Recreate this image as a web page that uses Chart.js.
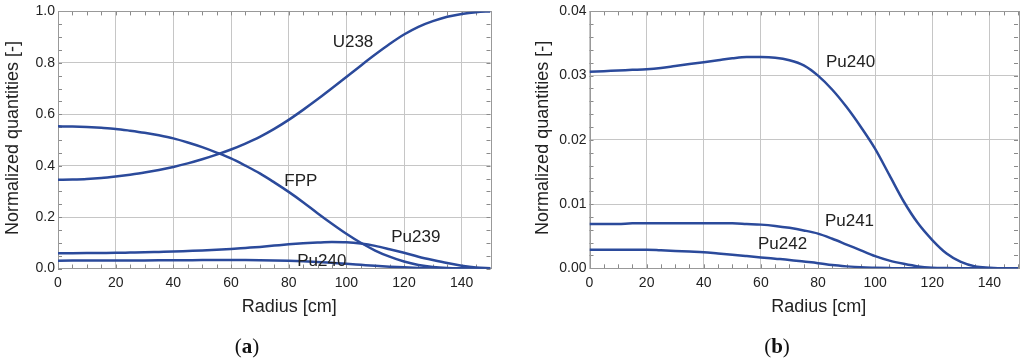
<!DOCTYPE html>
<html>
<head>
<meta charset="utf-8">
<script src="https://cdn.jsdelivr.net/npm/chart.js@4"></script>
<style>
  body{margin:0;background:#fff;width:1024px;height:361px;overflow:hidden;position:relative}
  .panel{position:absolute;top:0;width:512px;height:361px}
  .cap{position:absolute;top:334px;font-family:"Liberation Serif","Times New Roman",serif;font-size:21px;color:#111;transform:translateX(-50%)}
</style>
</head>
<body>
<div class="panel" style="left:0"><canvas id="chartA" width="512" height="361"></canvas></div>
<div class="panel" style="left:512px"><canvas id="chartB" width="512" height="361"></canvas></div>
<div class="cap" style="left:247px">(<b>a</b>)</div>
<div class="cap" style="left:777px">(<b>b</b>)</div>
<script>
// =======================
// DATA
// =======================
const radius = [0,5,10,15,20,25,30,35,40,45,50,55,60,65,70,75,80,85,90,95,100,105,110,115,120,125,130,135,140,145,150];

// panel (a)
const u238  = [0.345,0.346,0.348,0.352,0.358,0.365,0.373,0.383,0.395,0.409,0.425,0.443,0.463,0.486,0.512,0.543,
               0.578,0.617,0.658,0.701,0.745,0.789,0.832,0.873,0.910,0.940,0.962,0.979,0.990,0.997,1.000];
const fpp   = [0.553,0.552,0.550,0.547,0.543,0.536,0.528,0.518,0.506,0.490,0.472,0.451,0.428,0.400,0.370,0.335,
               0.298,0.258,0.215,0.174,0.135,0.100,0.070,0.046,0.027,0.014,0.006,0.002,0.0005,0,0];
const pu239 = [0.059,0.0595,0.060,0.0605,0.061,0.062,0.063,0.0645,0.066,0.068,0.070,0.073,0.076,0.080,0.084,0.089,
               0.094,0.098,0.101,0.103,0.102,0.097,0.088,0.075,0.061,0.046,0.033,0.021,0.011,0.004,0.001];

// panel (b) (Pu240 also drawn in panel a)
const pu240 = [0.0306,0.0307,0.0308,0.0309,0.0310,0.0312,0.0315,0.0318,0.0321,0.0324,0.0327,0.0329,0.0329,0.0328,0.0324,0.0316,
               0.0300,0.0278,0.0251,0.0220,0.0186,0.0145,0.0104,0.0070,0.0044,0.0023,0.0010,0.0003,0.0001,0,0];
const pu241 = [0.0069,0.0069,0.0069,0.0070,0.0070,0.0070,0.0070,0.0070,0.0070,0.0070,0.0070,0.0069,0.0068,0.0066,0.0063,0.0059,
               0.0054,0.0046,0.0037,0.0028,0.0019,0.0012,0.0007,0.0003,0.0001,0.00003,0,0,0,0,0];
const pu242 = [0.0029,0.0029,0.0029,0.0029,0.0029,0.0028,0.0027,0.0026,0.0025,0.0023,0.0021,0.0019,0.0017,0.0015,0.0013,0.00105,
               0.0008,0.0005,0.0003,0.00015,0.00008,0.00003,0,0,0,0,0,0,0,0,0];

// ticks
const xTicks  = [0,20,40,60,80,100,120,140];
const yTicksA = [0,0.2,0.4,0.6,0.8,1.0];
const yTicksB = [0,0.01,0.02,0.03,0.04];

// curve labels (data coordinates)
const namesA = ["U238","FPP","Pu239","Pu240"];
const labXA  = [102.3,84.2,124.1,91.5];
const labYA  = [0.88,0.34,0.122,0.029];
const namesB = ["Pu240","Pu241","Pu242"];
const labXB  = [91.4,91.0,67.6];
const labYB  = [0.0321,0.0073,0.0038];

// =======================
// HELPERS
// =======================
const LINE = "#2b4a9b";
const GRID = "#c6c6c6";
Chart.defaults.font.family = '"Liberation Sans", Arial, sans-serif';
Chart.defaults.color = "#222";

function pts(vals){
  return radius.map((r,i)=>({x:r, y:vals[i]}));
}
function isMajor(v, list){
  return list.some(t=>Math.abs(t-v) < 1e-9);
}

const panelPlugin = {
  id:"panel",
  beforeDatasetsDraw(chart){
    const {ctx, chartArea:a, scales:{x,y}} = chart;
    ctx.save();
    ctx.strokeStyle = "#8a8a8a";
    ctx.lineWidth = 1;
    ctx.beginPath();
    x.ticks.forEach(t=>{
      const p = Math.round(x.getPixelForValue(t.value)) + 0.5;
      ctx.moveTo(p, a.bottom); ctx.lineTo(p, a.bottom-4);
      ctx.moveTo(p, a.top);    ctx.lineTo(p, a.top+4);
    });
    y.ticks.forEach(t=>{
      const p = Math.round(y.getPixelForValue(t.value)) + 0.5;
      ctx.moveTo(a.left, p);  ctx.lineTo(a.left+4, p);
      ctx.moveTo(a.right, p); ctx.lineTo(a.right-4, p);
    });
    ctx.stroke();
    ctx.strokeStyle = "#999";
    ctx.strokeRect(Math.round(a.left)+0.5, Math.round(a.top)+0.5, Math.round(a.width), Math.round(a.height));
    ctx.restore();
  },
  afterDatasetsDraw(chart, args, opts){
    const {ctx, chartArea:a, scales:{x,y}} = chart;
    ctx.save();
    ctx.fillStyle = "#222";
    ctx.font = '17px "Liberation Sans", Arial, sans-serif';
    ctx.textAlign = "center";
    ctx.textBaseline = "middle";
    opts.names.forEach((n,i)=>{
      ctx.fillText(n, x.getPixelForValue(opts.xs[i]), y.getPixelForValue(opts.ys[i]));
    });
    // axis titles
    ctx.font = '18px "Liberation Sans", Arial, sans-serif';
    ctx.fillText("Radius [cm]", (a.left+a.right)/2 + 15, 307);
    ctx.translate(opts.yTitleX, (a.top+a.bottom)/2 - 2);
    ctx.rotate(-Math.PI/2);
    ctx.fillText("Normalized quantities [-]", 0, 0);
    ctx.restore();
  }
};

function makeChart(canvas, series, cfg){
  return new Chart(canvas,{
    type:"line",
    data:{
      datasets: series.map(s=>({
        data: pts(s),
        borderColor: LINE,
        borderWidth: 2.5,
        pointRadius: 0,
        cubicInterpolationMode: "monotone",
        fill: false
      }))
    },
    options:{
      responsive:false,
      animation:false,
      layout:{padding:cfg.padding},
      plugins:{
        legend:{display:false},
        tooltip:{enabled:false},
        panel:{names:cfg.names, xs:cfg.xs, ys:cfg.ys, yTitleX:cfg.yTitleX}
      },
      scales:{
        x:{
          type:"linear", min:0, max:150,
          border:{display:false},
          grid:{
            drawTicks:false,
            color: c => isMajor(c.tick.value, xTicks) ? GRID : "rgba(0,0,0,0)"
          },
          ticks:{
            stepSize:5, autoSkip:false, maxRotation:0, padding:6,
            font:{size:14},
            callback: v => isMajor(v, xTicks) ? String(v) : ""
          },
          afterFit: s => { s.height = 40; }
        },
        y:{
          type:"linear", min:0, max:cfg.yMax,
          border:{display:false},
          grid:{
            drawTicks:false,
            color: c => isMajor(c.tick.value, cfg.yTicks) ? GRID : "rgba(0,0,0,0)"
          },
          ticks:{
            stepSize:cfg.yMinor, autoSkip:false, padding:3,
            font:{size:14},
            callback: v => isMajor(v, cfg.yTicks) ? v.toFixed(cfg.dec) : ""
          },
          afterFit: s => { s.width = cfg.yWidth; }
        }
      }
    },
    plugins:[panelPlugin]
  });
}

// =======================
// INIT
// =======================
makeChart(document.getElementById("chartA"), [u238,fpp,pu239,pu240], {
  padding:{left:0,right:21.5,top:11,bottom:52.5},
  yWidth:58, yMax:1.0, yMinor:0.05, yTicks:yTicksA, dec:1,
  names:namesA, xs:labXA, ys:labYA, yTitleX:13
});

makeChart(document.getElementById("chartB"), [pu240,pu241,pu242], {
  padding:{left:0,right:5.4,top:10,bottom:52.7},
  yWidth:77.5, yMax:0.04, yMinor:0.002, yTicks:yTicksB, dec:2,
  names:namesB, xs:labXB, ys:labYB, yTitleX:31
});
</script>
</body>
</html>
